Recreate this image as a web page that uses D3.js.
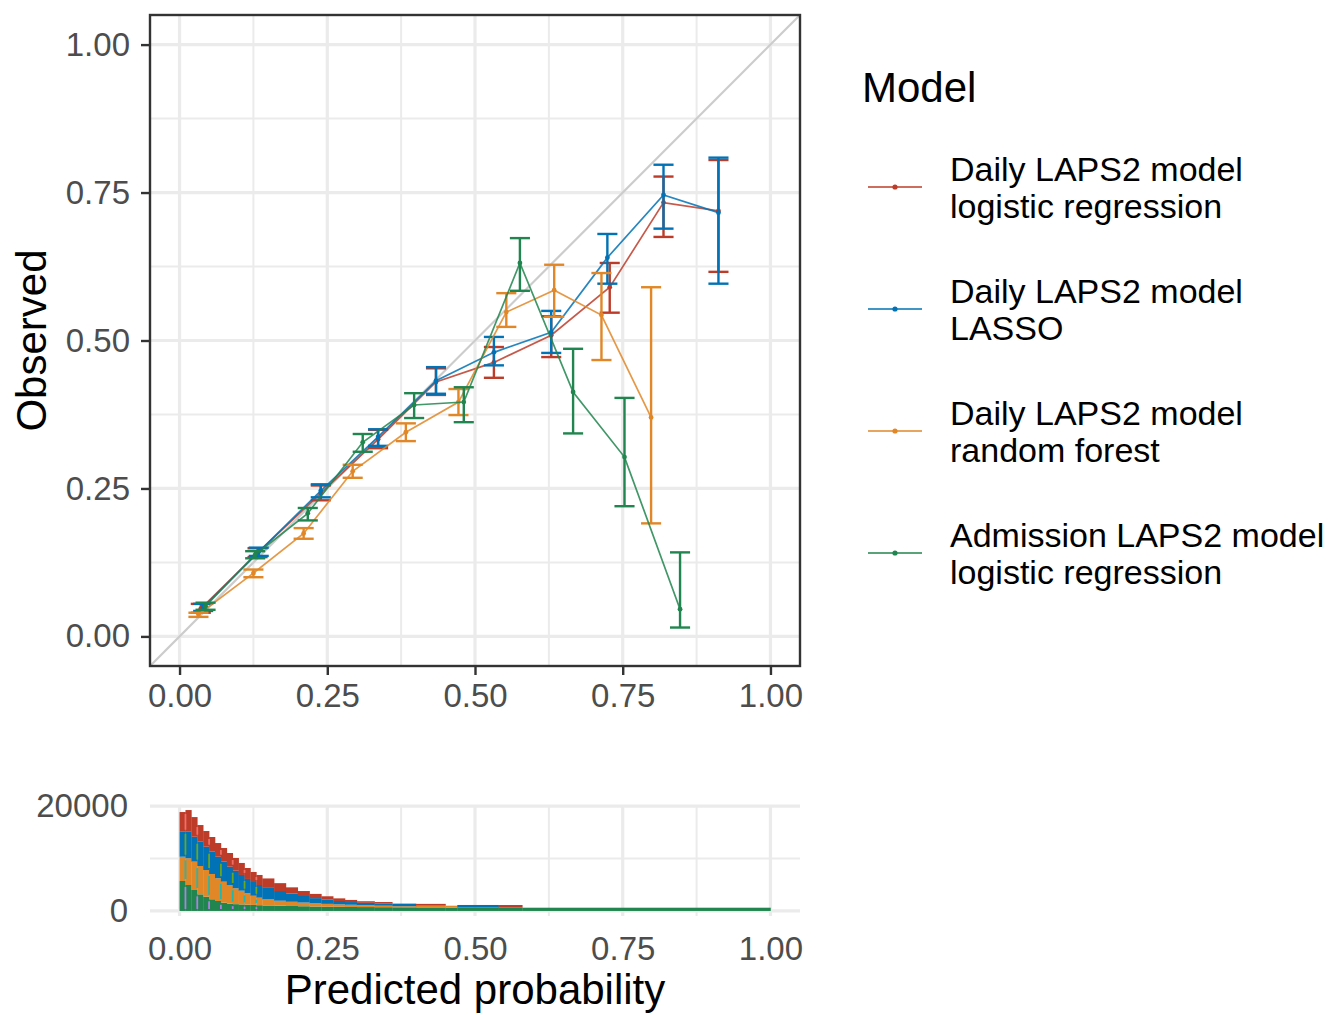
<!DOCTYPE html>
<html>
<head>
<meta charset="utf-8">
<script src="https://cdn.jsdelivr.net/npm/d3@7"></script>
<style>
  body { margin: 0; background: #fff; }
  text { font-family: "Liberation Sans", Arial, sans-serif; }
</style>
</head>
<body>
<div id="chart"></div>
<script>
// ---------- data ----------
var models = ["Daily LAPS2 model|logistic regression", "Daily LAPS2 model|LASSO",
              "Daily LAPS2 model|random forest", "Admission LAPS2 model|logistic regression"];
var modelColors = ["#BC3C29", "#0072B5", "#E18727", "#20854E"];
var stripeColors = ["#F8766D", "#7CAE00", "#00BFC4", "#C77CFF"];

// calibration points: mean predicted, observed, lower / upper CI
var lrPred  = [0.036, 0.132, 0.239, 0.336, 0.434, 0.532, 0.629, 0.728, 0.819, 0.912];
var lrObs   = [0.047, 0.141, 0.242, 0.333, 0.430, 0.463, 0.509, 0.590, 0.733, 0.719];
var lrLo    = [0.040, 0.134, 0.230, 0.318, 0.408, 0.437, 0.472, 0.547, 0.675, 0.616];
var lrHi    = [0.055, 0.149, 0.255, 0.349, 0.453, 0.489, 0.541, 0.631, 0.777, 0.805];

var lassoPred = [0.040, 0.134, 0.239, 0.336, 0.434, 0.532, 0.629, 0.724, 0.819, 0.912];
var lassoObs  = [0.049, 0.143, 0.246, 0.337, 0.432, 0.480, 0.514, 0.640, 0.746, 0.716];
var lassoLo   = [0.043, 0.136, 0.235, 0.322, 0.410, 0.458, 0.479, 0.596, 0.689, 0.596];
var lassoHi   = [0.055, 0.150, 0.257, 0.350, 0.455, 0.506, 0.550, 0.680, 0.797, 0.809];

var rfPred  = [0.032, 0.125, 0.210, 0.293, 0.383, 0.472, 0.553, 0.634, 0.714, 0.798];
var rfObs   = [0.037, 0.107, 0.174, 0.279, 0.345, 0.396, 0.548, 0.585, 0.543, 0.370];
var rfLo    = [0.033, 0.100, 0.165, 0.268, 0.330, 0.374, 0.523, 0.540, 0.467, 0.191];
var rfHi    = [0.040, 0.113, 0.183, 0.290, 0.360, 0.418, 0.580, 0.628, 0.614, 0.590];

var admPred = [0.044, 0.128, 0.217, 0.310, 0.397, 0.481, 0.576, 0.666, 0.753, 0.847];
var admObs  = [0.051, 0.138, 0.208, 0.328, 0.391, 0.396, 0.631, 0.413, 0.303, 0.046];
var admLo   = [0.045, 0.132, 0.196, 0.312, 0.369, 0.362, 0.584, 0.343, 0.220, 0.015];
var admHi   = [0.057, 0.144, 0.217, 0.342, 0.411, 0.421, 0.673, 0.486, 0.403, 0.142];

// histogram of predicted probabilities (stacked counts)
var histEdges = [0, 0.01, 0.02, 0.03, 0.04, 0.05, 0.06, 0.07, 0.08, 0.09, 0.10, 0.11, 0.12, 0.13, 0.14,
                 0.16, 0.18, 0.20, 0.22, 0.24, 0.26, 0.28, 0.30, 0.33, 0.36, 0.40, 0.45, 0.47, 0.54, 0.58, 1.00];
var histLR    = [3760, 4140, 3750, 3180, 2990, 2800, 2610, 2600, 2610, 2420, 2290, 2090, 1910, 1910,
                 1800, 1500, 1200, 950, 800, 650, 500, 400, 300, 250, 0, 350, 0, 0, 500, 0];
var histLasso = [4760, 5060, 4750, 4630, 4440, 4250, 4110, 3820, 3490, 3360, 3000, 2740, 2620, 2420,
                 2200, 1850, 1550, 1250, 1000, 800, 650, 520, 450, 450, 500, 0, 0, 500, 0, 0];
var histRF    = [4630, 5090, 5400, 5400, 5090, 4820, 4330, 4000, 3550, 3020, 2610, 2160, 1750, 1430,
                 1150, 950, 800, 700, 600, 550, 470, 420, 360, 280, 200, 320, 350, 0, 0, 0];
var histAdm   = [5710, 4950, 4000, 3170, 2720, 2230, 1900, 1580, 1400, 1300, 1250, 1200, 1150, 1100,
                 1050, 1000, 950, 900, 850, 800, 780, 760, 740, 720, 700, 680, 650, 640, 630, 620];

var probTicks = [0, 0.25, 0.5, 0.75, 1];
var probMinor = [0.125, 0.375, 0.625, 0.875];
var countTicks = [0, 20000];
var countMinor = [10000];

// ---------- layout ----------
var width = 1331, height = 1015;
var pLeft = 150, pRight = 800, pTop = 15, pBottom = 666;
var hTop = 805, hBottom = 916;
var axisColor = "#4D4D4D", gridColor = "#EBEBEB";

var svg = d3.select("#chart").append("svg")
    .attr("width", width)
    .attr("height", height);

var x = d3.scaleLinear().domain([-0.05, 1.05]).range([pLeft, pRight]);
var y = d3.scaleLinear().domain([-0.05, 1.05]).range([pBottom, pTop]);

var calib = [
    {pred: lrPred, obs: lrObs, lo: lrLo, hi: lrHi},
    {pred: lassoPred, obs: lassoObs, lo: lassoLo, hi: lassoHi},
    {pred: rfPred, obs: rfObs, lo: rfLo, hi: rfHi},
    {pred: admPred, obs: admObs, lo: admLo, hi: admHi}
];

// ---------- calibration panel ----------
var main = svg.append("g");
main.append("rect")
    .attr("x", pLeft).attr("y", pTop)
    .attr("width", pRight - pLeft).attr("height", pBottom - pTop)
    .attr("fill", "#fff");

svg.append("clipPath").attr("id", "panelClip")
    .append("rect")
    .attr("x", pLeft).attr("y", pTop)
    .attr("width", pRight - pLeft).attr("height", pBottom - pTop);

function grid(g, xs, ys, yscale, x0, x1, y0, y1, w) {
    g.selectAll(null).data(xs).enter().append("line")
        .attr("x1", function(d){ return x(d); }).attr("x2", function(d){ return x(d); })
        .attr("y1", y0).attr("y2", y1)
        .attr("stroke", gridColor).attr("stroke-width", w);
    g.selectAll(null).data(ys).enter().append("line")
        .attr("y1", function(d){ return yscale(d); }).attr("y2", function(d){ return yscale(d); })
        .attr("x1", x0).attr("x2", x1)
        .attr("stroke", gridColor).attr("stroke-width", w);
}

grid(main, probMinor, probMinor, y, pLeft, pRight, pTop, pBottom, 2);
grid(main, probTicks, probTicks, y, pLeft, pRight, pTop, pBottom, 3.2);

// reference diagonal
main.append("line")
    .attr("clip-path", "url(#panelClip)")
    .attr("x1", x(-0.05)).attr("y1", y(-0.05))
    .attr("x2", x(1.05)).attr("y2", y(1.05))
    .attr("stroke", "#CCCCCC").attr("stroke-width", 2.2);

var capHalf = 0.017;
var line = d3.line()
    .x(function(d){ return x(d[0]); })
    .y(function(d){ return y(d[1]); });

calib.forEach(function(m, i){
    var col = modelColors[i];
    var g = main.append("g");
    var pts = m.pred.map(function(p, j){ return [p, m.obs[j], m.lo[j], m.hi[j]]; });

    g.append("path")
        .attr("d", line(pts))
        .attr("fill", "none")
        .attr("stroke", col)
        .attr("stroke-width", 1.7)
        .attr("stroke-opacity", 0.85);

    g.selectAll(".pt").data(pts).enter().append("circle")
        .attr("class", "pt")
        .attr("cx", function(d){ return x(d[0]); })
        .attr("cy", function(d){ return y(d[1]); })
        .attr("r", 2.4)
        .attr("fill", col);

    var eb = g.selectAll(".eb").data(pts).enter().append("g").attr("class", "eb")
        .attr("stroke", col).attr("stroke-width", 2.4);
    eb.append("line")
        .attr("x1", function(d){ return x(d[0]); }).attr("x2", function(d){ return x(d[0]); })
        .attr("y1", function(d){ return y(d[2]); }).attr("y2", function(d){ return y(d[3]); });
    eb.append("line")
        .attr("x1", function(d){ return x(d[0] - capHalf); }).attr("x2", function(d){ return x(d[0] + capHalf); })
        .attr("y1", function(d){ return y(d[2]); }).attr("y2", function(d){ return y(d[2]); });
    eb.append("line")
        .attr("x1", function(d){ return x(d[0] - capHalf); }).attr("x2", function(d){ return x(d[0] + capHalf); })
        .attr("y1", function(d){ return y(d[3]); }).attr("y2", function(d){ return y(d[3]); });
});

// panel border
main.append("rect")
    .attr("x", pLeft).attr("y", pTop)
    .attr("width", pRight - pLeft).attr("height", pBottom - pTop)
    .attr("fill", "none").attr("stroke", "#333333").attr("stroke-width", 2.4);

function styleAxis(g) {
    g.select(".domain").remove();
    g.selectAll(".tick line").attr("stroke", "#333333").attr("stroke-width", 2.4);
    g.selectAll(".tick text")
        .attr("fill", axisColor)
        .style("font-size", "33px")
        .style("font-family", "'Liberation Sans', Arial, sans-serif");
}

svg.append("g")
    .attr("transform", "translate(" + pLeft + ",0)")
    .call(d3.axisLeft(y).tickValues(probTicks).tickFormat(d3.format(".2f")).tickSize(9).tickPadding(11))
    .call(styleAxis);

svg.append("g")
    .attr("transform", "translate(0," + pBottom + ")")
    .call(d3.axisBottom(x).tickValues(probTicks).tickFormat(d3.format(".2f")).tickSize(9).tickPadding(9))
    .call(styleAxis);

svg.append("text")
    .attr("transform", "translate(46," + ((pTop + pBottom) / 2) + ") rotate(-90)")
    .attr("text-anchor", "middle")
    .style("font-size", "42px")
    .attr("fill", "#000")
    .text("Observed");

// ---------- histogram panel ----------
var bins = histEdges.slice(0, -1).map(function(e, i){
    return {x0: e, x1: histEdges[i + 1], lr: histLR[i], lasso: histLasso[i], rf: histRF[i], adm: histAdm[i]};
});
// stack order: admission at bottom, LR on top
var stackKeys = ["adm", "rf", "lasso", "lr"];
var keyColor = {lr: 0, lasso: 1, rf: 2, adm: 3};
var stacked = d3.stack().keys(stackKeys)(bins);
var maxCount = d3.max(stacked[stacked.length - 1], function(d){ return d[1]; });

var yh = d3.scaleLinear().domain([-0.05 * maxCount, 1.05 * maxCount]).range([hBottom, hTop]);

var hist = svg.append("g");
grid(hist, probMinor, countMinor, yh, pLeft, pRight, hTop, hBottom, 2);
grid(hist, probTicks, countTicks, yh, pLeft, pRight, hTop, hBottom, 3.2);

stacked.forEach(function(layer){
    var ci = keyColor[layer.key];
    hist.append("g").selectAll("rect").data(layer).enter().append("rect")
        .attr("x", function(d){ return x(d.data.x0); })
        .attr("width", function(d){ return x(d.data.x1) - x(d.data.x0) + 0.3; })
        .attr("y", function(d){ return yh(d[1]); })
        .attr("height", function(d){ return Math.max(0, yh(d[0]) - yh(d[1])); })
        .attr("fill", modelColors[ci]);

    // thin outline streaks between narrow bins
    var streaks = [];
    for (var i = 1; i < layer.length; i += 2) {
        if (layer[i].data.x1 - layer[i].data.x0 > 0.011) break;
        var lo = Math.max(layer[i - 1][0], layer[i][0]);
        var hi = Math.min(layer[i - 1][1], layer[i][1]);
        if (yh(lo) - yh(hi) > 5) streaks.push({x: layer[i].data.x0, lo: lo, hi: hi});
    }
    hist.append("g").selectAll("line").data(streaks).enter().append("line")
        .attr("x1", function(d){ return x(d.x); }).attr("x2", function(d){ return x(d.x); })
        .attr("y1", function(d){ return yh(d.lo) - 2; })
        .attr("y2", function(d){ return yh(d.hi) + 2; })
        .attr("stroke", stripeColors[ci])
        .attr("stroke-width", 1.8)
        .attr("stroke-opacity", 0.85);
});

svg.append("g")
    .attr("transform", "translate(" + pLeft + ",0)")
    .call(d3.axisLeft(yh).tickValues(countTicks).tickFormat(d3.format("d")).tickSize(0).tickPadding(22))
    .call(styleAxis);

svg.append("g")
    .attr("transform", "translate(0," + hBottom + ")")
    .call(d3.axisBottom(x).tickValues(probTicks).tickFormat(d3.format(".2f")).tickSize(0).tickPadding(21))
    .call(styleAxis);

svg.append("text")
    .attr("x", (pLeft + pRight) / 2).attr("y", 1004)
    .attr("text-anchor", "middle")
    .style("font-size", "42px")
    .attr("fill", "#000")
    .text("Predicted probability");

// ---------- legend ----------
var legend = svg.append("g");
legend.append("text")
    .attr("x", 862).attr("y", 102)
    .style("font-size", "42px")
    .attr("fill", "#000")
    .text("Model");

var keyY = d3.scalePoint().domain(models).range([187, 553]);

var entry = legend.selectAll(".entry").data(models).enter().append("g")
    .attr("class", "entry")
    .attr("transform", function(d){ return "translate(0," + keyY(d) + ")"; });

entry.append("line")
    .attr("x1", 868).attr("x2", 922)
    .attr("stroke", function(d, i){ return modelColors[i]; })
    .attr("stroke-width", 1.7);
entry.append("circle")
    .attr("cx", 895).attr("r", 2.6)
    .attr("fill", function(d, i){ return modelColors[i]; });

entry.append("text")
    .attr("x", 950).attr("y", -6)
    .style("font-size", "34px")
    .attr("fill", "#000")
    .text(function(d){ return d.split("|")[0]; });
entry.append("text")
    .attr("x", 950).attr("y", 31)
    .style("font-size", "34px")
    .attr("fill", "#000")
    .text(function(d){ return d.split("|")[1]; });
</script>
</body>
</html>
